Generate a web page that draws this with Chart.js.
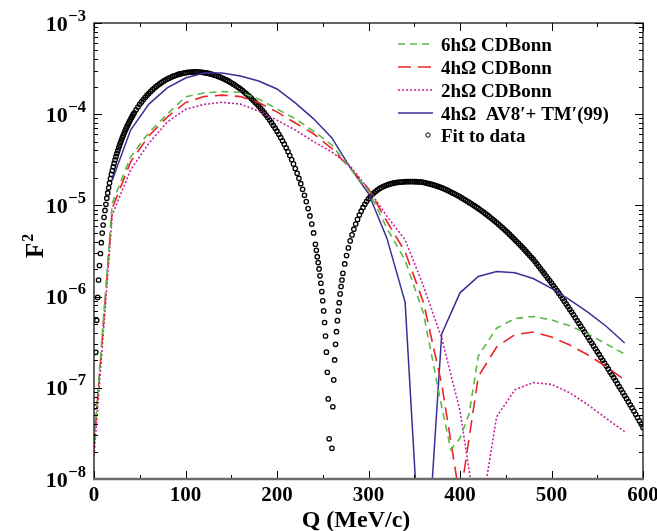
<!DOCTYPE html>
<html>
<head>
<meta charset="utf-8">
<script src="https://cdn.jsdelivr.net/npm/chart.js@4.4.1/dist/chart.umd.min.js"></script>
<style>
html, body { margin: 0; padding: 0; background: #fff; }
canvas { display: block; }
</style>
</head>
<body>
<canvas id="chart" width="657" height="531"></canvas>
<script>
// F^2 against Q (MeV/c)
const THEORY_Q = [0,20,40,60,80,100,120,140,160,180,200,220,240,260,280,300,320,340,360,380,400,420,440,460,480,500,520,540,560,580];

const CDB6_Q = [0,20,40,60,80,100,120,140,160,180,200,220,240,260,280,300,320,340,360,380,390,400,410,420,440,460,480,500,520,540,560,580];
const CDB6 = [2.5e-8,1.06e-5,3.4e-5,6.3e-5,1.0e-4,1.55e-4,1.71e-4,1.77e-4,1.74e-4,1.47e-4,1.14e-4,8.9e-5,6.5e-5,4.6e-5,2.55e-5,1.45e-5,5.65e-6,2.5e-6,6.6e-7,6.2e-8,2.1e-8,2.8e-8,5.2e-8,2.23e-7,4.5e-7,5.75e-7,6.05e-7,5.54e-7,4.78e-7,3.9e-7,3.02e-7,2.34e-7];

const CDB4 = [2.3e-8,9.3e-6,3.0e-5,5.8e-5,9.3e-5,1.34e-4,1.56e-4,1.62e-4,1.56e-4,1.34e-4,1.06e-4,8.0e-5,6.1e-5,4.2e-5,2.55e-5,1.52e-5,6.7e-6,3.1e-6,8.7e-7,1.1e-7,6e-9,1.33e-7,2.8e-7,3.84e-7,4.09e-7,3.6e-7,2.94e-7,2.29e-7,1.7e-7,1.22e-7];

const CDB2 = [1.8e-8,7.9e-6,2.45e-5,4.8e-5,8.2e-5,1.13e-4,1.28e-4,1.35e-4,1.29e-4,1.08e-4,8.6e-5,6.7e-5,5.0e-5,3.85e-5,2.7e-5,1.5e-5,7.65e-6,4.2e-6,1.31e-6,3.5e-7,5.6e-8,2.7e-9,4.8e-8,9.5e-8,1.14e-7,1.09e-7,8.8e-8,6.5e-8,4.6e-8,3.3e-8];

const AV8_Q = [20,40,60,80,100,120,140,160,180,200,220,240,260,280,300,320,340,360,380,400,420,440,460,480,500,520,540,560,580];
const AV8 = [1.9e-5,6.7e-5,1.29e-4,1.94e-4,2.49e-4,2.83e-4,2.83e-4,2.62e-4,2.31e-4,1.89e-4,1.33e-4,8.9e-5,5.5e-5,2.6e-5,1.35e-5,4.4e-6,8.7e-7,3e-10,3.9e-7,1.10e-6,1.66e-6,1.88e-6,1.83e-6,1.58e-6,1.23e-6,9.2e-7,6.7e-7,4.7e-7,3.1e-7];

// "Fit to data" open circles
const FIT_Q = [
  1,2,3,4,5,6,7,8,9,10,11,12,13,14,15,16,17,18,19,20,
  21,22,23,24,25,26,27,28,29,30,31,32,33,34,35,36,37,38,39,40,41,42,43,44,
  46,48,50,52,54,56,58,60,62,64,66,68,70,72,74,76,78,80,82,84,86,88,90,92,94,96,98,100,
  102,104,106,108,110,112,114,116,118,120,122,124,126,128,130,132,134,136,138,140,
  142,144,146,148,150,152,154,156,158,160,162,164,166,168,170,172,174,176,178,180,
  182,184,186,188,190,192,194,196,198,200,202,204,206,208,210,212,214,216,218,220,
  222,224,226,228,230,232,234,236,238,240,242,243,
  244,245,246,247,248,249,250,251,252,253,254,255,256,257,
  260,261,262,263,264,265,266,267,268,269,270,271,272,
  274,276,278,280,282,284,286,288,290,292,294,296,298,300,302,304,306,308,310,312,314,316,318,320,
  322,324,326,328,330,332,334,336,338,340,342,344,346,348,350,352,354,356,358,360,
  362,364,366,368,370,372,374,376,378,380,382,384,386,388,390,392,394,396,398,400,
  402,404,406,408,410,412,414,416,418,420,422,424,426,428,430,432,434,436,438,440,
  442,444,446,448,450,452,454,456,458,460,462,464,466,468,470,472,474,476,478,480,
  482,484,486,488,490,492,494,496,498,500,502,504,506,508,510,512,514,516,518,520,
  522,524,526,528,530,532,534,536,538,540,542,544,546,548,550,552,554,556,558,560,
  562,564,566,568,570,572,574,576,578,580,582,584,586,588,590,592,594,596,598,600];
const FIT_F2 = [
  6.2e-8,2.45e-7,5.5e-7,9.8e-7,1.52e-6,2.19e-6,2.97e-6,3.9e-6,4.97e-6,6.1e-6,7.4e-6,8.8e-6,1.03e-5,1.2e-5,1.37e-5,1.56e-5,1.76e-5,1.97e-5,2.19e-5,2.41e-5,
  2.645e-5,2.89e-5,3.15e-5,3.42e-5,3.70e-5,3.98e-5,4.28e-5,4.58e-5,4.89e-5,5.21e-5,5.54e-5,5.88e-5,6.22e-5,6.57e-5,6.92e-5,7.29e-5,7.65e-5,8.03e-5,8.41e-5,8.79e-5,9.18e-5,9.57e-5,9.97e-5,1.037e-4,
  1.118e-4,1.20e-4,1.282e-4,1.365e-4,1.449e-4,1.532e-4,1.615e-4,1.697e-4,1.778e-4,1.858e-4,1.937e-4,2.014e-4,2.089e-4,2.162e-4,2.232e-4,2.30e-4,2.365e-4,2.427e-4,2.486e-4,2.541e-4,2.593e-4,2.641e-4,2.686e-4,2.727e-4,2.763e-4,2.796e-4,2.824e-4,2.849e-4,
  2.869e-4,2.884e-4,2.896e-4,2.903e-4,2.906e-4,2.905e-4,2.90e-4,2.89e-4,2.877e-4,2.86e-4,2.839e-4,2.814e-4,2.785e-4,2.753e-4,2.717e-4,2.679e-4,2.637e-4,2.592e-4,2.545e-4,2.495e-4,
  2.443e-4,2.388e-4,2.331e-4,2.272e-4,2.212e-4,2.15e-4,2.087e-4,2.023e-4,1.958e-4,1.892e-4,1.825e-4,1.758e-4,1.691e-4,1.623e-4,1.556e-4,1.489e-4,1.422e-4,1.356e-4,1.291e-4,1.227e-4,
  1.163e-4,1.101e-4,1.039e-4,9.79e-5,9.20e-5,8.63e-5,8.08e-5,7.54e-5,7.02e-5,6.51e-5,6.03e-5,5.56e-5,5.11e-5,4.69e-5,4.28e-5,3.89e-5,3.52e-5,3.18e-5,2.85e-5,2.54e-5,
  2.25e-5,1.98e-5,1.73e-5,1.50e-5,1.29e-5,1.10e-5,9.24e-6,7.66e-6,6.24e-6,4.99e-6,3.75e-6,3.22e-6,
  2.74e-6,2.36e-6,2.01e-6,1.69e-6,1.40e-6,1.136e-6,9.0e-7,6.97e-7,5.2e-7,3.7e-7,2.46e-7,1.48e-7,7.56e-8,2.76e-8,
  2.17e-8,6.2e-8,1.22e-7,2.02e-7,3.0e-7,4.12e-7,5.45e-7,6.95e-7,8.57e-7,1.07e-6,1.29e-6,1.52e-6,1.80e-6,
  2.28e-6,2.82e-6,3.42e-6,4.08e-6,4.75e-6,5.48e-6,6.25e-6,7.02e-6,7.84e-6,8.64e-6,9.49e-6,1.03e-5,1.109e-5,1.183e-5,1.253e-5,1.318e-5,1.376e-5,1.429e-5,1.482e-5,1.529e-5,1.568e-5,1.608e-5,1.64e-5,1.673e-5,
  1.698e-5,1.722e-5,1.743e-5,1.764e-5,1.776e-5,1.789e-5,1.797e-5,1.806e-5,1.812e-5,1.819e-5,1.821e-5,1.823e-5,1.824e-5,1.823e-5,1.821e-5,1.819e-5,1.815e-5,1.81e-5,1.80e-5,1.79e-5,
  1.77e-5,1.75e-5,1.73e-5,1.71e-5,1.688e-5,1.667e-5,1.640e-5,1.614e-5,1.588e-5,1.563e-5,1.531e-5,1.50e-5,1.468e-5,1.436e-5,1.403e-5,1.371e-5,1.338e-5,1.306e-5,1.274e-5,1.242e-5,
  1.208e-5,1.175e-5,1.142e-5,1.109e-5,1.078e-5,1.047e-5,1.016e-5,9.86e-6,9.56e-6,9.27e-6,8.96e-6,8.67e-6,8.38e-6,8.09e-6,7.81e-6,7.53e-6,7.26e-6,7.0e-6,6.74e-6,6.49e-6,
  6.23e-6,5.98e-6,5.74e-6,5.5e-6,5.27e-6,5.05e-6,4.83e-6,4.61e-6,4.41e-6,4.21e-6,4.02e-6,3.83e-6,3.65e-6,3.48e-6,3.31e-6,3.15e-6,2.99e-6,2.84e-6,2.70e-6,2.57e-6,
  2.42e-6,2.28e-6,2.15e-6,2.02e-6,1.904e-6,1.795e-6,1.689e-6,1.59e-6,1.497e-6,1.41e-6,1.322e-6,1.24e-6,1.163e-6,1.09e-6,1.02e-6,9.55e-7,8.91e-7,8.32e-7,7.76e-7,7.24e-7,
  6.76e-7,6.31e-7,5.88e-7,5.47e-7,5.09e-7,4.74e-7,4.41e-7,4.11e-7,3.83e-7,3.56e-7,3.32e-7,3.09e-7,2.88e-7,2.68e-7,2.49e-7,2.32e-7,2.15e-7,2.0e-7,1.86e-7,1.73e-7,
  1.61e-7,1.49e-7,1.39e-7,1.29e-7,1.20e-7,1.11e-7,1.03e-7,9.55e-8,8.85e-8,8.2e-8,7.6e-8,7.05e-8,6.52e-8,6.03e-8,5.56e-8,5.13e-8,4.72e-8,4.35e-8,4.0e-8,3.67e-8];

const X_TICKS = [0,100,200,300,400,500,600];
const Y_EXP = [-8,-7,-6,-5,-4,-3];

const SERIF = '"Liberation Serif","DejaVu Serif",serif';

function pts(qs, vals){
  return qs.map((q, i) => ({ x: q, y: vals[i] }));
}

// ticks point inward on all four sides, labels and legend drawn on the canvas
const decor = {
  id: 'decor',
  afterDatasetsDraw(chart){
    const { ctx, chartArea: a, scales: { x, y } } = chart;
    ctx.save();

    ctx.strokeStyle = '#000';
    ctx.lineWidth = 1;
    ctx.beginPath();
    for(let v = 0; v <= 600; v += 50){
      const px = Math.round(x.getPixelForValue(v)) + 0.5;
      const len = v % 100 ? 4 : 8;
      ctx.moveTo(px, a.bottom); ctx.lineTo(px, a.bottom - len);
      ctx.moveTo(px, a.top); ctx.lineTo(px, a.top + len);
    }
    for(const e of Y_EXP){
      for(let m = 1; m <= 9; m++){
        const v = m * Math.pow(10, e);
        if(v > 1.0001e-3) break;
        const py = Math.round(y.getPixelForValue(v)) + 0.5;
        const len = m === 1 ? 8 : 4;
        ctx.moveTo(a.left, py); ctx.lineTo(a.left + len, py);
        ctx.moveTo(a.right, py); ctx.lineTo(a.right - len, py);
      }
    }
    ctx.stroke();

    ctx.lineWidth = 1.2;
    ctx.strokeRect(a.left, a.top, a.right - a.left, a.bottom - a.top);
    ctx.strokeStyle = '#6c6c6c';
    ctx.lineWidth = 2.5;
    ctx.beginPath(); ctx.moveTo(a.left - 1, a.bottom); ctx.lineTo(a.right + 1, a.bottom); ctx.stroke();

    ctx.fillStyle = '#000';
    ctx.textBaseline = 'alphabetic';
    ctx.font = `bold 21px ${SERIF}`;
    ctx.textAlign = 'center';
    X_TICKS.forEach(v => ctx.fillText(String(v), x.getPixelForValue(v), 501));

    Y_EXP.forEach(e => {
      const py = y.getPixelForValue(Math.pow(10, e));
      const sup = '\u2212' + (-e);
      ctx.font = `bold 16.5px ${SERIF}`;
      const sw = ctx.measureText(sup).width;
      ctx.textAlign = 'left';
      ctx.fillText(sup, 86 - sw, py - 2.5);
      ctx.font = `bold 22px ${SERIF}`;
      ctx.textAlign = 'right';
      ctx.fillText('10', 85.5 - sw, py + 7.5);
    });

    ctx.font = `bold 24px ${SERIF}`;
    ctx.textAlign = 'center';
    ctx.fillText('Q (MeV/c)', 356, 527);

    ctx.save();
    ctx.translate(43, 258);
    ctx.rotate(-Math.PI / 2);
    ctx.textAlign = 'left';
    ctx.font = `bold 25px ${SERIF}`;
    ctx.fillText('F', 0, 0);
    const fw = ctx.measureText('F').width;
    ctx.font = `bold 16px ${SERIF}`;
    ctx.fillText('2', fw + 1, -10);
    ctx.restore();

    // legend
    const rows = [44, 67, 90, 113, 135];
    ctx.font = `bold 19px ${SERIF}`;
    ctx.textAlign = 'left';
    chart.data.datasets.forEach((ds, i) => {
      const ry = rows[i];
      if(ds.showLine === false){
        ctx.setLineDash([]);
        ctx.strokeStyle = '#000';
        ctx.lineWidth = 1;
        ctx.beginPath(); ctx.arc(428, ry, 2.2, 0, Math.PI * 2); ctx.stroke();
      } else {
        ctx.setLineDash(ds.borderDash || []);
        ctx.strokeStyle = ds.borderColor;
        ctx.lineWidth = ds.borderWidth;
        ctx.beginPath(); ctx.moveTo(398, ry); ctx.lineTo(433, ry); ctx.stroke();
      }
      ctx.setLineDash([]);
      ctx.fillStyle = '#000';
      ctx.fillText(ds.label, 441, ry + 6.5);
    });

    ctx.restore();
  }
};

new Chart(document.getElementById('chart'), {
  type: 'line',
  data: {
    datasets: [
      { label: '6h\u03A9 CDBonn', data: pts(CDB6_Q, CDB6), borderColor: '#5cb848', borderWidth: 1.6, borderDash: [7, 5], pointRadius: 0, tension: 0, fill: false },
      { label: '4h\u03A9 CDBonn', data: pts(THEORY_Q, CDB4), borderColor: '#e8262b', borderWidth: 1.6, borderDash: [13, 7], pointRadius: 0, tension: 0, fill: false },
      { label: '2h\u03A9 CDBonn', data: pts(THEORY_Q, CDB2), borderColor: '#c4219c', borderWidth: 1.6, borderDash: [2, 2], pointRadius: 0, tension: 0, fill: false },
      { label: '4h\u03A9  AV8\u2032+ TM\u2032(99)', data: pts(AV8_Q, AV8), borderColor: '#3a2f96', borderWidth: 1.5, pointRadius: 0, tension: 0, fill: false },
      { label: 'Fit to data', data: pts(FIT_Q, FIT_F2), showLine: false, pointRadius: 2.2, pointBorderWidth: 1.3, pointBorderColor: '#000', pointBackgroundColor: 'rgba(255,255,255,0)' }
    ]
  },
  options: {
    responsive: false,
    animation: false,
    devicePixelRatio: 1,
    layout: { padding: { left: 94, right: 14, top: 23, bottom: 52 } },
    plugins: { legend: { display: false }, tooltip: { enabled: false } },
    scales: {
      x: {
        type: 'linear', min: 0, max: 600,
        grid: { display: false }, border: { display: false }, ticks: { display: false },
        afterFit(s){ s.height = 0; }
      },
      y: {
        type: 'logarithmic', min: 1e-8, max: 1e-3,
        grid: { display: false }, border: { display: false }, ticks: { display: false },
        afterFit(s){ s.width = 0; }
      }
    }
  },
  plugins: [decor]
});
</script>
</body>
</html>
